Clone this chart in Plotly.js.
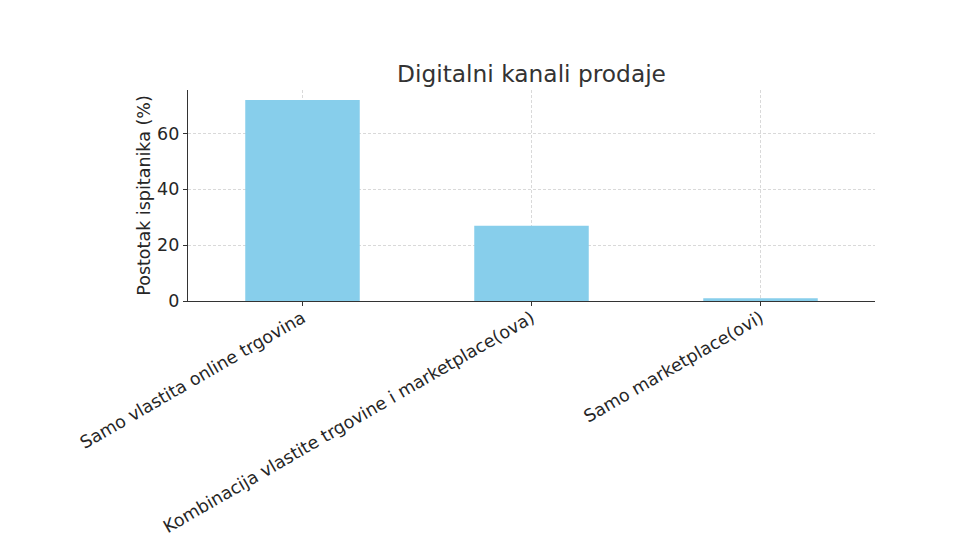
<!DOCTYPE html>
<html>
<head>
<meta charset="utf-8">
<script src="https://cdn.plot.ly/plotly-3.0.1.min.js"></script>
<style>html,body{margin:0;padding:0;background:#fff;}#chart{width:975px;height:537px;}</style>
</head>
<body>
<div id="chart"></div>
<script>
const categories = ["Samo vlastita online trgovina", "Kombinacija vlastite trgovine i marketplace(ova)", "Samo marketplace(ovi)"];
const values = [72, 27, 1];
const yTicks = [0, 20, 40, 60];

const trace = {
  type: 'bar',
  x: categories,
  y: values,
  width: 0.5,
  marker: {color: '#87CEEB', line: {width: 0}},
  hoverinfo: 'x+y'
};

const layout = {
  width: 975, height: 537,
  margin: {l: 188, r: 100, t: 90, b: 236, pad: 0},
  paper_bgcolor: '#fff', plot_bgcolor: '#fff',
  font: {family: 'DejaVu Sans, sans-serif', color: '#262626', size: 17.5},
  title: {text: 'Digitalni kanali prodaje', font: {size: 23.3, color: '#333'}, xref: 'paper', x: 0.5, xanchor: 'center', y: 0.863, yanchor: 'middle'},
  showlegend: false,
  bargap: 0.5,
  xaxis: {
    type: 'category', range: [-0.5, 2.5],
    tickangle: -30, tickfont: {size: 17.5},
    ticklabelstandoff: -5,
    showgrid: true, gridcolor: '#cfcfcf', griddash: '3px,2px', gridwidth: 0.8,
    showline: true, linecolor: '#333', linewidth: 1.2,
    ticks: 'outside', ticklen: 4, tickcolor: '#333', tickwidth: 1,
    zeroline: false
  },
  yaxis: {
    range: [0, 75.6], tickvals: yTicks, ticktext: yTicks.map(String),
    tickfont: {size: 17.5},
    title: {text: 'Postotak ispitanika (%)', font: {size: 17.5}, standoff: 1},
    showgrid: true, gridcolor: '#cfcfcf', griddash: '3px,2px', gridwidth: 0.8,
    showline: true, linecolor: '#333', linewidth: 1.2,
    ticks: 'outside', ticklen: 4, tickcolor: '#333', tickwidth: 1,
    zeroline: false
  }
};

Plotly.newPlot('chart', [trace], layout, {displayModeBar: false, staticPlot: true});
</script>
</body>
</html>
